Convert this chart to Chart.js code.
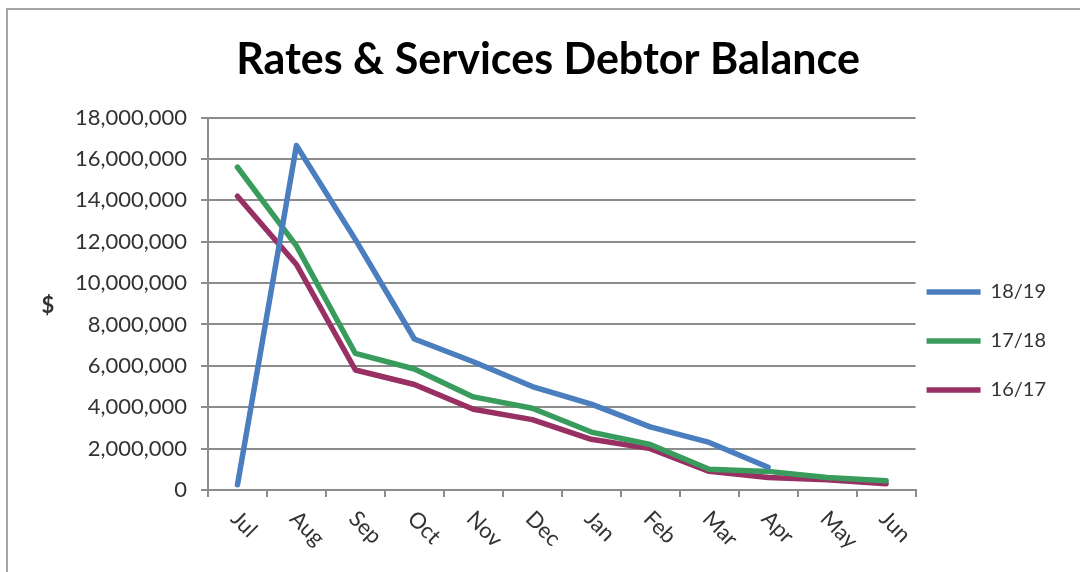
<!DOCTYPE html>
<html>
<head>
<meta charset="utf-8">
<script src="https://cdn.jsdelivr.net/npm/chart.js@4.4.0/dist/chart.umd.min.js"></script>
<style>
  html, body { margin: 0; padding: 0; background: #fff; }
  #wrap { position: relative; width: 1080px; height: 572px; }
  #frame { position: absolute; left: 6px; top: 8px; width: 1090px; height: 600px; border: 2px solid #a6a6a6; box-sizing: border-box; pointer-events: none; }
  canvas { position: absolute; left: 0; top: 0; }
</style>
</head>
<body>
<div id="wrap">
  <canvas id="chart" width="1080" height="572"></canvas>
  <div id="frame"></div>
</div>
<script>
const months = ["Jul", "Aug", "Sep", "Oct", "Nov", "Dec", "Jan", "Feb", "Mar", "Apr", "May", "Jun"];
const fy1819 = [250000, 16650000, 12100000, 7300000, 6200000, 5000000, 4150000, 3050000, 2300000, 1100000, null, null];
const fy1718 = [15600000, 11800000, 6600000, 5850000, 4500000, 3950000, 2800000, 2200000, 1000000, 900000, 600000, 450000];
const fy1617 = [14200000, 10900000, 5800000, 5100000, 3900000, 3400000, 2450000, 2000000, 900000, 600000, 500000, 300000];
const seriesNames = ["18/19", "17/18", "16/17"];
const seriesColors = ["#4a7ebf", "#3a9c5c", "#993063"];

const gridColor = "#8c8c8c";
const textColor = "#333333";

// month labels run down to the right, drawn here since chart.js only tilts the other way
const slantedLabels = {
  id: "slantedLabels",
  afterDraw(chart) {
    const ctx = chart.ctx;
    const xs = chart.scales.x;
    ctx.save();
    ctx.fillStyle = textColor;
    ctx.font = "22px Lato";
    ctx.textAlign = "left";
    ctx.textBaseline = "middle";
    months.forEach((m, i) => {
      const x = xs.getPixelForValue(i);
      ctx.save();
      ctx.translate(x - 3, xs.top + 25);
      ctx.rotate(Math.PI / 4);
      ctx.fillText(m, 0, 0);
      ctx.restore();
    });
    // "$" axis title, upright
    ctx.font = "bold 22px Lato";
    ctx.textAlign = "center";
    ctx.fillText("$", 48, 306);
    ctx.restore();
  },
  afterLayout(chart) {
    chart.legend.left -= 18;
    chart.legend.top += 110;
  }
};

new Chart(document.getElementById("chart"), {
  type: "line",
  data: {
    labels: months,
    datasets: [fy1819, fy1718, fy1617].map((d, i) => ({
      label: seriesNames[i],
      data: d,
      borderColor: seriesColors[i],
      backgroundColor: seriesColors[i],
      borderWidth: 5.5,
      pointRadius: 0,
      tension: 0,
      borderJoinStyle: "round",
      borderCapStyle: "round",
      spanGaps: false
    }))
  },
  options: {
    responsive: false,
    animation: false,
    layout: { padding: { left: 22, right: 6, top: 0, bottom: 0 } },
    plugins: {
      title: {
        display: true,
        text: "Rates & Services Debtor Balance",
        color: "#000",
        font: { family: "Lato", size: 43, weight: "bold" },
        padding: { top: 34, bottom: 32 }
      },
      legend: {
        position: "right",
        labels: {
          usePointStyle: true,
          pointStyle: "line",
          pointStyleWidth: 54,
          boxHeight: 5,
          padding: 29,
          color: textColor,
          font: { family: "Lato", size: 20 }
        }
      },
      tooltip: { enabled: false }
    },
    scales: {
      x: {
        offset: true,
        grid: { offset: true, drawOnChartArea: false, color: gridColor, lineWidth: 2, tickLength: 7 },
        border: { color: gridColor, width: 2 },
        ticks: { display: false },
        afterFit(s) { s.height = 82; }
      },
      y: {
        min: 0,
        max: 18000000,
        grid: { color: gridColor, lineWidth: 2, tickLength: 7 },
        border: { color: gridColor, width: 2 },
        ticks: {
          stepSize: 2000000,
          color: textColor,
          font: { family: "Lato", size: 22 },
          padding: 14,
          callback: v => v.toLocaleString("en-US")
        },
        afterFit(s) { s.width = 186; }
      }
    }
  },
  plugins: [slantedLabels]
});
</script>
</body>
</html>
